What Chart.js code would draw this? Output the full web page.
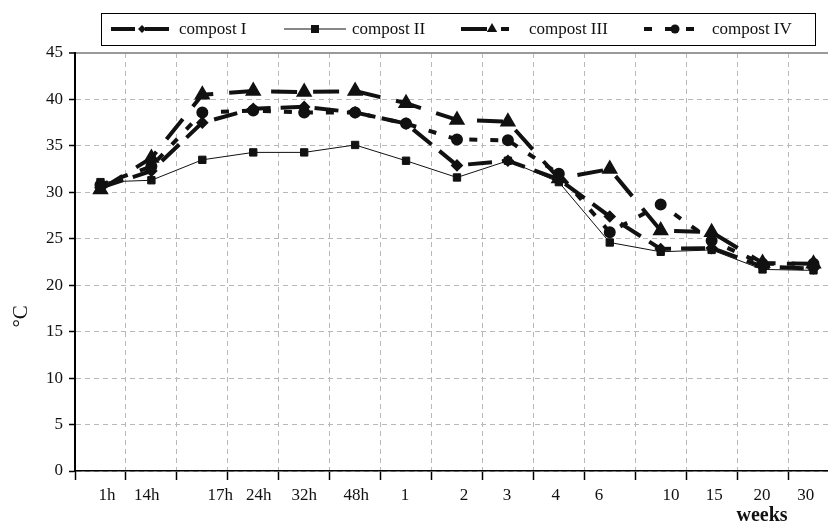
<!DOCTYPE html>
<html>
<head>
<meta charset="utf-8">
<script src="https://cdn.jsdelivr.net/npm/chart.js@4.4.1/dist/chart.umd.min.js"></script>
<style>
html, body { margin: 0; padding: 0; background: #fff; }
#wrap { width: 828px; height: 525px; overflow: hidden; }
</style>
</head>
<body>
<div id="wrap"><canvas id="chart" width="828" height="525"></canvas></div>
<script>
// Temperature of four composts over time (hours, then weeks)

const categories = ['1h', '14h', '17h', '24h', '32h', '48h', '1', '2', '3', '4', '6', '10', '15', '20', '30'];
// where each time label sits along the axis (in category widths from the y axis)
const labelPos = [0.63, 1.41, 2.85, 3.61, 4.50, 5.52, 6.48, 7.64, 8.48, 9.44, 10.29, 11.70, 12.55, 13.49, 14.35];

const compostI   = [30.5, 32.3, 37.5, 39.0, 39.2, 38.6, 37.4, 32.9, 33.4, 31.4, 27.4, 23.9, 24.0, 22.0, 21.8];
const compostII  = [31.1, 31.3, 33.5, 34.3, 34.3, 35.1, 33.4, 31.6, 33.4, 31.1, 24.6, 23.6, 23.8, 21.7, 21.6];
const compostIII = [30.3, 33.7, 40.5, 40.9, 40.8, 40.9, 39.6, 37.8, 37.6, 31.5, 32.5, 25.9, 25.7, 22.4, 22.3];
const compostIV  = [30.8, 32.8, 38.6, 38.8, 38.6, 38.6, 37.4, 35.7, 35.6, 32.0, 25.7, 28.7, 24.8, 22.3, 22.3];

const yMax = 45;
const xMax = 14.785; // the plot runs off the right edge of the picture
const serif = "'Liberation Serif', 'Times New Roman', serif";
const ink = '#111';

function toPoints(values) {
    return values.map((v, i) => ({x: i + 0.5, y: v}));
}

function drawMarker(ctx, style, r, x, y) {
    ctx.beginPath();
    if (style === 'rect') {
        const s = r * Math.SQRT1_2;
        ctx.rect(x - s, y - s, 2 * s, 2 * s);
    } else if (style === 'rectRot') {
        ctx.moveTo(x - r, y); ctx.lineTo(x, y - r); ctx.lineTo(x + r, y); ctx.lineTo(x, y + r);
        ctx.closePath();
    } else if (style === 'triangle') {
        let a = 0;
        ctx.moveTo(x + Math.sin(a) * r, y - Math.cos(a) * r);
        a += 2 * Math.PI / 3;
        ctx.lineTo(x + Math.sin(a) * r, y - Math.cos(a) * r);
        a += 2 * Math.PI / 3;
        ctx.lineTo(x + Math.sin(a) * r, y - Math.cos(a) * r);
        ctx.closePath();
    } else {
        ctx.arc(x, y, r, 0, 2 * Math.PI);
    }
    ctx.fill();
}

// boxed legend with line+marker samples
const legendX = [111, 284, 461, 644];
const boxLegend = {
    id: 'boxLegend',
    afterDraw(chart) {
        const ctx = chart.ctx;
        const left = 101, top = 13, w = 714, h = 32;
        ctx.save();
        ctx.fillStyle = '#fff';
        ctx.fillRect(left, top, w, h);
        ctx.strokeStyle = '#000';
        ctx.lineWidth = 1;
        ctx.strokeRect(left + 0.5, top + 0.5, w, h);
        const cy = top + h / 2;
        chart.data.datasets.forEach((ds, i) => {
            const x0 = legendX[i];
            ctx.strokeStyle = ds.borderColor;
            ctx.lineWidth = ds.borderWidth;
            ctx.setLineDash(ds.legendDash || ds.borderDash || []);
            ctx.beginPath();
            ctx.moveTo(x0, cy);
            ctx.lineTo(x0 + 62, cy);
            ctx.stroke();
            ctx.setLineDash([]);
            ctx.fillStyle = ds.pointBackgroundColor;
            drawMarker(ctx, ds.pointStyle, ds.pointRadius + 0.5, x0 + 31, cy);
            ctx.fillStyle = '#111';
            ctx.font = '17px ' + serif;
            ctx.textAlign = 'left';
            ctx.textBaseline = 'middle';
            ctx.fillText(ds.label, x0 + 68, cy + 1);
        });
        ctx.restore();
    }
};

// unit titles: °C beside the y axis, "weeks" under the week labels
const unitTitles = {
    id: 'unitTitles',
    afterDraw(chart) {
        const ctx = chart.ctx;
        const a = chart.chartArea;
        ctx.save();
        ctx.fillStyle = '#111';
        ctx.textAlign = 'center';
        ctx.textBaseline = 'middle';
        ctx.translate(21, a.top + (a.bottom - a.top) * 0.63);
        ctx.rotate(-Math.PI / 2);
        ctx.font = '21px ' + serif;
        ctx.fillText('\u00B0C', 0, 0);
        ctx.restore();

        const xl = chart.scales.xl;
        ctx.save();
        ctx.fillStyle = '#111';
        ctx.textAlign = 'center';
        ctx.textBaseline = 'middle';
        ctx.font = 'bold 20px ' + serif;
        ctx.fillText('weeks', xl.getPixelForValue(labelPos[13]), 516);
        ctx.restore();
    }
};

const ctx = document.getElementById('chart').getContext('2d');
const myChart = new Chart(ctx, {
    type: 'line',
    data: {
        datasets: [
            {
                label: 'compost I',
                data: toPoints(compostI),
                borderColor: ink,
                borderWidth: 4,
                borderDash: [24, 10],
                pointStyle: 'rectRot',
                pointRadius: 3.5,
                pointBackgroundColor: ink,
                pointBorderColor: ink
            },
            {
                label: 'compost II',
                data: toPoints(compostII),
                borderColor: ink,
                borderWidth: 1,
                pointStyle: 'rect',
                pointRadius: 5.2,
                pointBackgroundColor: ink,
                pointBorderColor: ink
            },
            {
                label: 'compost III',
                data: toPoints(compostIII),
                borderColor: ink,
                borderWidth: 4,
                borderDash: [26, 16],
                legendDash: [26, 14, 8, 20],
                pointStyle: 'triangle',
                pointRadius: 5.5,
                pointBackgroundColor: ink,
                pointBorderColor: ink
            },
            {
                label: 'compost IV',
                data: toPoints(compostIV),
                borderColor: ink,
                borderWidth: 4,
                borderDash: [8, 13],
                pointStyle: 'circle',
                pointRadius: 4,
                pointBackgroundColor: ink,
                pointBorderColor: ink
            }
        ]
    },
    options: {
        responsive: false,
        animation: false,
        layout: {
            autoPadding: false,
            padding: {top: 53, right: 0, bottom: 0, left: 0}
        },
        elements: {
            line: {tension: 0, borderCapStyle: 'butt'},
            point: {borderWidth: 1}
        },
        plugins: {
            legend: {display: false},
            tooltip: {enabled: false}
        },
        scales: {
            x: {
                type: 'linear',
                position: 'bottom',
                min: 0,
                max: xMax,
                afterBuildTicks: scale => {
                    scale.ticks = categories.map((c, i) => ({value: i}));
                },
                ticks: {display: false},
                grid: {
                    color: '#b8b8b8',
                    lineWidth: 1,
                    drawTicks: true,
                    tickLength: 9,
                    tickColor: '#000',
                    tickWidth: 1.5,
                    tickBorderDash: []
                },
                border: {color: '#000', width: 1.5, dash: [5, 4]}
            },
            xl: {
                type: 'linear',
                position: 'bottom',
                weight: 1,
                min: 0,
                max: xMax,
                afterBuildTicks: scale => {
                    scale.ticks = labelPos.map(v => ({value: v}));
                },
                afterFit: scale => { scale.height = 45; scale.paddingRight = 0; },
                ticks: {
                    autoSkip: false,
                    maxRotation: 0,
                    padding: -3,
                    color: '#111',
                    font: {family: serif, size: 17},
                    callback: (v, i) => categories[i]
                },
                grid: {display: false},
                border: {display: false}
            },
            y: {
                min: 0,
                max: yMax,
                afterFit: scale => { scale.width = 75; },
                ticks: {
                    stepSize: 5,
                    padding: 6,
                    color: '#111',
                    font: {family: serif, size: 17}
                },
                grid: {
                    color: c => (c.tick && c.tick.value === yMax) ? '#9a9a9a' : '#b8b8b8',
                    lineWidth: c => (c.tick && c.tick.value === yMax) ? 2 : 1,
                    drawTicks: true,
                    tickLength: 6,
                    tickColor: '#000',
                    tickWidth: 1.5,
                    tickBorderDash: []
                },
                border: {
                    color: '#000',
                    width: 2,
                    dash: c => (c.tick && c.tick.value === yMax) ? [] : [5, 4]
                }
            }
        }
    },
    plugins: [boxLegend, unitTitles]
});
</script>
</body>
</html>
